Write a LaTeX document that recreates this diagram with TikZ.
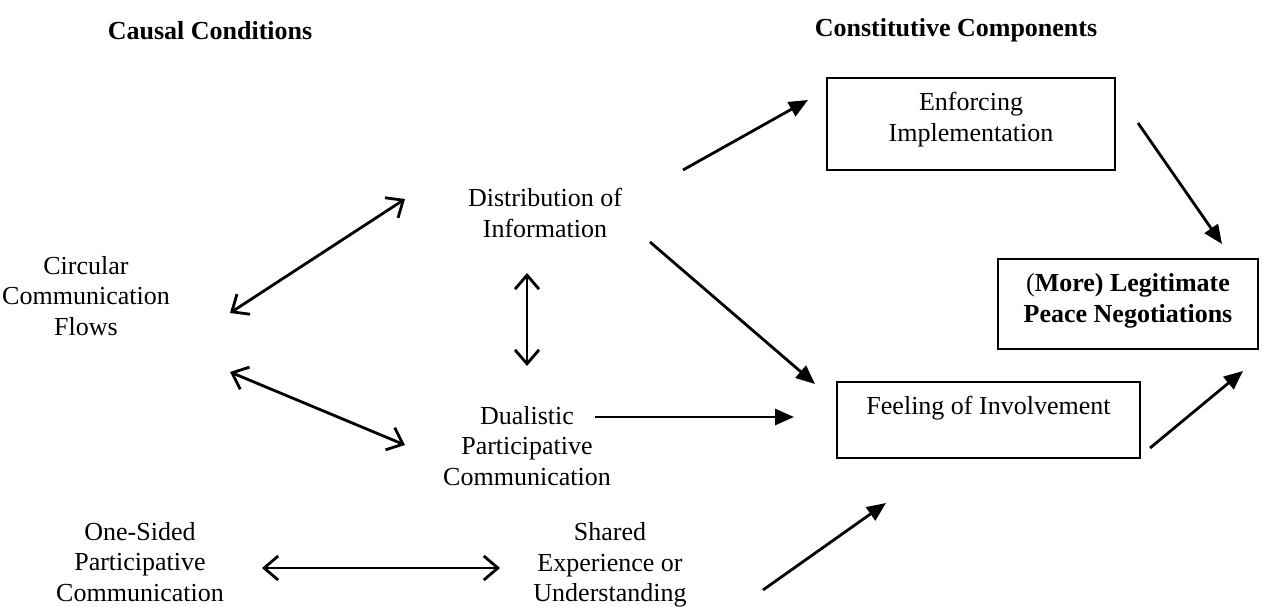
\documentclass[tikz,border=0pt]{standalone}
\usepackage{fontspec}
\setmainfont{Liberation Serif}
\usetikzlibrary{arrows.meta}
\begin{document}
\begin{tikzpicture}[x=1pt,y=-1pt,
  every node/.style={font=\fontsize{26}{30.5}\selectfont, align=center, inner sep=0pt},
  head/.style={font=\fontsize{26}{30.5}\selectfont\bfseries},
  box/.style={draw, line width=2.2pt, inner sep=0pt},
  cause/.style={line width=2.8pt, -{Triangle[length=19pt,width=16pt]}},
  link/.style={line width=2.8pt, {Straight Barb[length=14pt,width=24pt]}-{Straight Barb[length=14pt,width=24pt]}}
]
\useasboundingbox (0,0) rectangle (1286,607);

% column headings
\node[head] (hcause) at (210,31) {Causal Conditions};
\node[head] (hconst) at (956,30) {Constitutive Components};

% causal conditions
\node (circ) at (86,296) {Circular\\Communication\\Flows};
\node (dist) at (545,213) {Distribution of\\Information};
\node (dual) at (527,446) {Dualistic\\Participative\\Communication};
\node (one)  at (140,562) {One-Sided\\Participative\\Communication};
\node (shared) at (610,565) {Shared\\Experience or\\Understanding};

% constitutive components
\node[box, minimum width=288, minimum height=92] (enf) at (971,124) {};
\node (enftxt) at (971,119.5) {Enforcing\\Implementation};
\node[box, minimum width=303, minimum height=76] (feel) at (988.5,420) {};
\node (feeltxt) at (988.5,408) {Feeling of Involvement};
\node[box, minimum width=260, minimum height=90] (legit) at (1128,304) {};
\node (legtxt) at (1128,301) {(\textbf{More) Legitimate}\\\textbf{Peace Negotiations}};

% connector end points
\coordinate (a1s) at (230,313); \coordinate (a1e) at (405,199);
\coordinate (a2s) at (230,372); \coordinate (a2e) at (405,445);
\coordinate (a3s) at (527,273); \coordinate (a3e) at (527,366);
\coordinate (a4s) at (262,568); \coordinate (a4e) at (500,568);

\coordinate (c1s) at (683,170); \coordinate (c1e) at (808,100);
\coordinate (c2s) at (650,242); \coordinate (c2e) at (815,384);
\coordinate (c3s) at (595,417); \coordinate (c3e) at (794,417);
\coordinate (c4s) at (763,590); \coordinate (c4e) at (886,503);
\coordinate (c5s) at (1138,123); \coordinate (c5e) at (1222,244);
\coordinate (c6s) at (1150,448); \coordinate (c6e) at (1243,371);

% reciprocal links
\draw[link] (a1s) -- (a1e);
\draw[link] (a2s) -- (a2e);
\draw[link] (a3s) -- (a3e);
\draw[link] (a4s) -- (a4e);

% causal arrows
\draw[cause] (c1s) -- (c1e);
\draw[cause] (c2s) -- (c2e);
\draw[cause] (c3s) -- (c3e);
\draw[cause] (c4s) -- (c4e);
\draw[cause] (c5s) -- (c5e);
\draw[cause] (c6s) -- (c6e);
\end{tikzpicture}
\end{document}
